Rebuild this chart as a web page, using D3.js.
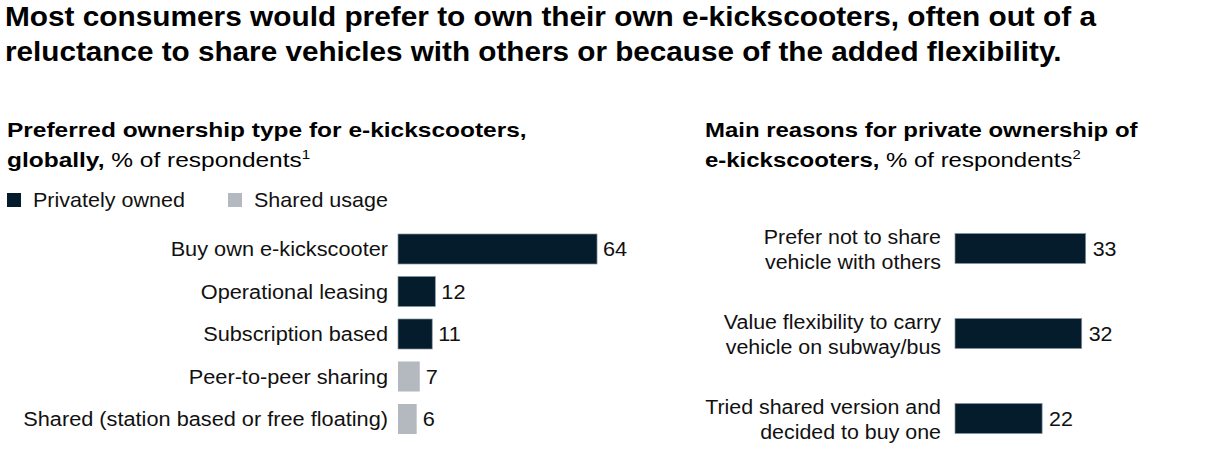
<!DOCTYPE html>
<html>
<head>
<meta charset="utf-8">
<script src="https://cdn.jsdelivr.net/npm/d3@7"></script>
<style>
  html, body { margin: 0; padding: 0; background: #fff; }
  svg { display: block; }
  text { font-family: "Liberation Sans", Arial, sans-serif; fill: #111; }
</style>
</head>
<body>
<svg id="chart" width="1221" height="460"></svg>
<script>
// ---------- data ----------
const titleLines = [
  "Most consumers would prefer to own their own e-kickscooters, often out of a",
  "reluctance to share vehicles with others or because of the added flexibility."
];
const leftSubtitleBold1 = "Preferred ownership type for e-kickscooters,";
const leftSubtitleBold2 = "globally,";
const leftSubtitleRest = " % of respondents";
const leftNote = "1";
const rightSubtitleBold1 = "Main reasons for private ownership of";
const rightSubtitleBold2 = "e-kickscooters,";
const rightSubtitleRest = " % of respondents";
const rightNote = "2";

const legendLabels = ["Privately owned", "Shared usage"];

const ownCategories = [
  "Buy own e-kickscooter",
  "Operational leasing",
  "Subscription based",
  "Peer-to-peer sharing",
  "Shared (station based or free floating)"
];
const ownValues = [64, 12, 11, 7, 6];
const ownTypes = ["Privately owned", "Privately owned", "Privately owned", "Shared usage", "Shared usage"];

const reasonCategories = [
  ["Prefer not to share", "vehicle with others"],
  ["Value flexibility to carry", "vehicle on subway/bus"],
  ["Tried shared version and", "decided to buy one"]
];
const reasonValues = [33, 32, 22];

// ---------- setup ----------
const svg = d3.select("#chart");
const colors = d3.scaleOrdinal().domain(legendLabels).range(["#051c2c", "#b3b9bf"]);

// horizontally fit a text element (positioned at x,y) to a target width
function fitWidth(sel, x, y, target) {
  sel.attr("x", 0).attr("y", 0);
  const w = sel.node().getBBox().width;
  const s = target / w;
  sel.attr("transform", `translate(${x},${y}) scale(${s},1)`);
  return s;
}
function placeScaled(sel, x, y, s) {
  sel.attr("x", 0).attr("y", 0).attr("transform", `translate(${x},${y}) scale(${s},1)`);
}

// ---------- title ----------
const titleBaselines = [26, 61];
const titleWidths = [1092, 1057];
titleLines.forEach((t, i) => {
  const el = svg.append("text").text(t)
    .style("font-size", "28px").style("font-weight", "700").style("fill", "#000");
  fitWidth(el, 5, titleBaselines[i], titleWidths[i]);
});

// ---------- subtitles ----------
function subtitle(x, y1, y2, bold1, bold2, rest, note, w1) {
  const l1 = svg.append("text").text(bold1)
    .style("font-size", "21px").style("font-weight", "700").style("fill", "#000");
  const s = fitWidth(l1, x, y1, w1);
  const l2 = svg.append("text").style("font-size", "21px").style("fill", "#000");
  l2.append("tspan").text(bold2).style("font-weight", "700");
  l2.append("tspan").text(rest).style("font-weight", "400");
  l2.append("tspan").text(note).style("font-size", "13px").attr("dy", -8);
  placeScaled(l2, x, y2, s);
}
subtitle(7, 137, 167, leftSubtitleBold1, leftSubtitleBold2, leftSubtitleRest, leftNote, 520);
subtitle(705, 137, 167, rightSubtitleBold1, rightSubtitleBold2, rightSubtitleRest, rightNote, 434);

// ---------- legend ----------
const legendX = [7, 228];
const legendG = svg.append("g");
let legendScale = null;
legendLabels.forEach((lab, i) => {
  legendG.append("rect")
    .attr("x", legendX[i]).attr("y", 193).attr("width", 14).attr("height", 14)
    .attr("fill", colors(lab));
  const t = legendG.append("text").text(lab).style("font-size", "20px");
  if (legendScale === null) legendScale = fitWidth(t, legendX[i] + 26, 207, 152);
  else placeScaled(t, legendX[i] + 26, 207, legendScale);
});

// ---------- left chart ----------
const xL = d3.scaleLinear().domain([0, 100]).range([398, 398 + 311]);
const yL = d3.scaleBand().domain(ownCategories).range([227.75, 440.25])
  .paddingInner(0.294).paddingOuter(0.147);

const gL = svg.append("g");
gL.selectAll("rect.bar").data(ownCategories).join("rect")
  .attr("class", "bar")
  .attr("x", xL(0))
  .attr("y", d => yL(d))
  .attr("width", (d, i) => xL(ownValues[i]) - xL(0))
  .attr("height", yL.bandwidth())
  .attr("fill", (d, i) => colors(ownTypes[i]))
  .attr("stroke", (d, i) => ownTypes[i] === legendLabels[0] ? "#8795a1" : "none")
  .attr("stroke-width", 0.7);

// category labels (right-aligned)
let catScaleL = null;
const refIdx = ownCategories.length - 1;
const labL = ownCategories.map((c, i) => gL.append("text").text(c)
  .style("font-size", "20px").attr("text-anchor", "end"));
catScaleL = fitWidth(labL[refIdx], 388, yL(ownCategories[refIdx]) + yL.bandwidth() / 2 + 7, 365);
labL.forEach((el, i) => {
  if (i !== refIdx) placeScaled(el, 388, yL(ownCategories[i]) + yL.bandwidth() / 2 + 7, catScaleL);
});

// value labels
ownCategories.forEach((c, i) => {
  const t = gL.append("text").text(ownValues[i]).style("font-size", "20px");
  placeScaled(t, xL(ownValues[i]) + 6, yL(c) + yL.bandwidth() / 2 + 7, catScaleL);
});

// ---------- right chart ----------
const reasonKeys = reasonCategories.map(d => d.join(" "));
const xR = d3.scaleLinear().domain([0, 100]).range([955, 955 + 396]);
const yR = d3.scaleBand().domain(reasonKeys).range([206, 461])
  .paddingInner(0.647).paddingOuter(0.3235);

const gR = svg.append("g");
gR.selectAll("rect.bar").data(reasonKeys).join("rect")
  .attr("class", "bar")
  .attr("x", xR(0))
  .attr("y", d => yR(d))
  .attr("width", (d, i) => xR(reasonValues[i]) - xR(0))
  .attr("height", yR.bandwidth())
  .attr("fill", colors(legendLabels[0]))
  .attr("stroke", "#8795a1")
  .attr("stroke-width", 0.7);

// two-line category labels
const refLine = gR.append("text").text(reasonCategories[2][0])
  .style("font-size", "20px").attr("text-anchor", "end");
const cy2 = yR(reasonKeys[2]) + yR.bandwidth() / 2;
const catScaleR = fitWidth(refLine, 941, cy2 - 4.5, 236);
reasonCategories.forEach((lines, i) => {
  const cy = yR(reasonKeys[i]) + yR.bandwidth() / 2;
  lines.forEach((ln, j) => {
    if (i === 2 && j === 0) return;
    const t = gR.append("text").text(ln).style("font-size", "20px").attr("text-anchor", "end");
    placeScaled(t, 941, cy - 4.5 + j * 25, catScaleR);
  });
  const v = gR.append("text").text(reasonValues[i]).style("font-size", "20px");
  placeScaled(v, xR(reasonValues[i]) + 7, cy + 7, catScaleR);
});
</script>
</body>
</html>
